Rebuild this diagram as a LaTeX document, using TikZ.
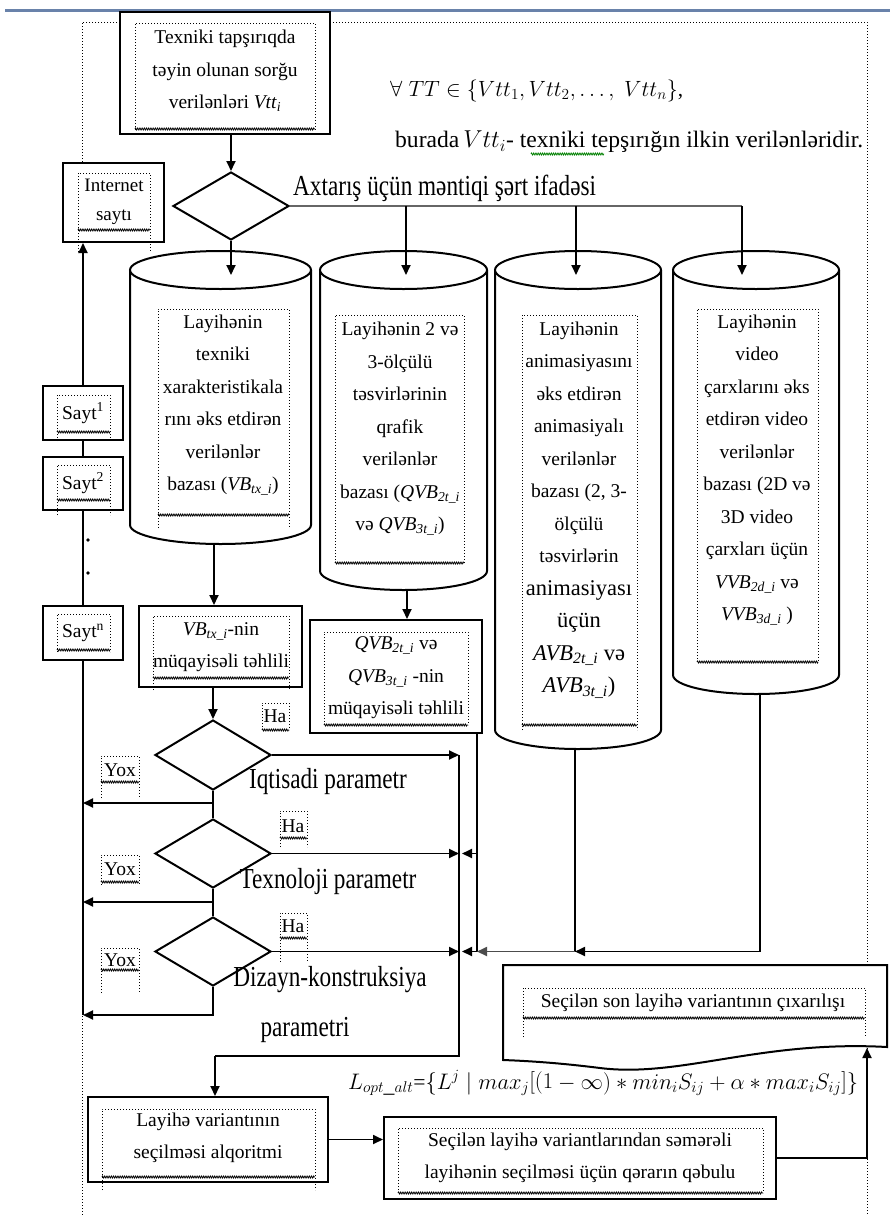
\documentclass[tikz,border=0pt]{standalone}
\usepackage{graphicx}
\usepackage{fontspec}
\setmainfont{Liberation Serif}
\newfontfamily\condfont{Liberation Serif}[FakeStretch=0.8]
\usetikzlibrary{arrows.meta,shapes.geometric,decorations.pathmorphing}
\definecolor{rulec}{RGB}{105,130,170}
\tikzset{
  obox/.style={draw,line width=2pt,fill=white,rectangle,inner sep=0pt},
  dia/.style={draw,line width=2pt,fill=white,diamond,inner sep=0pt,minimum width=116pt,minimum height=69pt},
  conn/.style={line width=1.8pt},
  arr/.style={line width=1.8pt,-{Triangle[length=10pt,width=9pt]}},
  tx/.style={inner sep=0pt,align=center,font=\fontsize{19.5}{32.5}\selectfont},
  big/.style={inner sep=0pt,font=\condfont\fontsize{29}{32}\selectfont},
  dotf/.style={dotted,line width=1pt},
  zz/.style={line width=0.8pt,decorate,decoration={zigzag,segment length=2.2pt,amplitude=1pt}},
}
\newcommand\dbcyl[5]{%
  \pgfmathsetmacro\cylcx{(#1+#2)/2}\pgfmathsetmacro\cylrx{(#2-#1)/2}%
  \fill[white] (#1,#3) -- (#1,#4) arc[start angle=180,end angle=0,x radius=\cylrx,y radius=#5] -- (#2,#3) -- cycle;
  \draw[line width=2pt] (#1,#3) -- (#1,#4) arc[start angle=180,end angle=0,x radius=\cylrx,y radius=#5] -- (#2,#3);
  \draw[line width=2pt,fill=white] (\cylcx,#3) ellipse[x radius=\cylrx,y radius=#5];
}
\newcommand\innerfr[5]{%
  \draw[dotf] (#1,#5) -- (#1,#2) -- (#3,#2) -- (#3,#5);
  \draw[zz] (#1,#4) -- (#3,#4);
}
\begin{document}
\begin{tikzpicture}[x=1pt,y=-1pt]
\useasboundingbox (0,0) rectangle (890,1216);
\fill[white] (0,0) rectangle (890,1216);
% outer dotted frame
\draw[dotf] (120,22) -- (82,22) -- (82,1216);
\draw[dotf] (330,22) -- (867,22) -- (867,1216);
% top blue rule
\draw[line width=3pt,rulec] (5,10) -- (890,10);

% boxes
\node[obox,minimum width=210pt,minimum height=122pt] (top) at (225,73) {};
\node[obox,minimum width=101pt,minimum height=79pt] (inet) at (113.5,202.5) {};
\node[obox,minimum width=80pt,minimum height=54pt] (s1) at (83,413) {};
\node[obox,minimum width=80pt,minimum height=53pt] (s2) at (83,483.5) {};
\node[obox,minimum width=80pt,minimum height=54pt] (sn) at (83,633) {};
\node[obox,minimum width=163pt,minimum height=81pt] (vbc) at (220.5,646.5) {};
\node[obox,minimum width=172pt,minimum height=113pt] (qvbc) at (396,676.5) {};
\node[obox,minimum width=240pt,minimum height=85pt] (alg) at (208,1139.5) {};
\node[obox,minimum width=392pt,minimum height=82pt] (dec) at (580,1158) {};
% document shape
\draw[line width=2pt,fill=white] (503,965) -- (887,965) -- (887,1047)
  .. controls (760,1040) and (680,1078) .. (600,1068)
  .. controls (560,1063) and (530,1061) .. (503,1060) -- cycle;
\coordinate (rb) at (867,1048);

% diamonds
\node[dia,minimum height=68pt] (d0) at (231,206) {};
\node[dia,minimum height=70pt] (d1) at (213,755) {};
\node[dia] (d2) at (213,853.5) {};
\node[dia] (d3) at (213,951.5) {};

% cylinders
\dbcyl{130}{311}{270}{525}{19}
\dbcyl{320}{487}{270}{571}{19}
\dbcyl{495}{661}{270}{730}{19}
\dbcyl{673}{839}{270}{675}{19}
\coordinate (c1t) at (231,275);
\coordinate (c2t) at (406,275);
\coordinate (c3t) at (576,275);
\coordinate (c4t) at (742,275);
\coordinate (c1b) at (214,544);
\coordinate (c2b) at (407,590);
\coordinate (c3b) at (575,749);
\coordinate (c4b) at (760,694);

% inner dotted frames
\innerfr{135}{23}{315}{129}{130}
\innerfr{78}{173}{150}{230}{252}
\innerfr{57}{395}{110}{432}{441}
\innerfr{57}{465}{110}{500}{515}
\innerfr{57}{614}{110}{650}{652}
\innerfr{158}{309}{289}{515}{528}
\innerfr{153}{616}{289}{678}{690}
\innerfr{335}{315}{464}{563}{563}
\innerfr{324}{632}{468}{725}{725}
\innerfr{522}{315}{637}{725}{730}
\innerfr{697}{309}{818}{662}{662}
\innerfr{523}{988}{865}{1018}{1037}
\innerfr{102}{1109}{315}{1177}{1190}
\innerfr{398}{1128}{763}{1193}{1193}
\innerfr{262}{703}{289}{730}{730}
\innerfr{280}{811}{307}{838}{847}
\innerfr{280}{913}{307}{938}{962}
\innerfr{101}{756}{139}{782}{798}
\innerfr{101}{855}{139}{882}{885}
\innerfr{101}{948}{139}{970}{993}

% connectors
\draw[arr] (d0.north |- top.south) -- (d0.north);
\draw[arr] (d0.south) -- (c1t);
\draw[line width=2.2pt,black!60] (d0.east) -- (d0.east -| c4t);
\draw[arr] (d0.east -| c2t) -- (c2t);
\draw[arr] (d0.east -| c3t) -- (c3t);
\draw[arr] (d0.east -| c4t) -- (c4t);
\draw[arr] (c1b) -- (c1b |- vbc.north);
\draw[arr] (c2b) -- (c2b |- qvbc.north);
\draw[arr] (d1.north |- vbc.south) -- (d1.north);
\draw[conn] (d1.south) -- (d2.north);
\draw[conn] (d2.south) -- (d3.north);
\coordinate (y1) at (213,803);
\coordinate (y2) at (213,902);
\coordinate (y3) at (213,1015);
\draw[arr] (y1) -- (y1 -| sn.south);
\draw[arr] (y2) -- (y2 -| sn.south);
\draw[arr] (d3.south) -- (y3) -- (y3 -| sn.south);
\draw[conn] (y3 -| sn.south) -- (sn.south);
\draw[conn] (sn.north) -- (s2.south);
\draw[conn] (s2.north) -- (s1.south);
\draw[arr] (s1.north) -- (s1.north |- inet.south);
\fill (88,540) circle (1.8pt);
\fill (88,573) circle (1.8pt);
\coordinate (hv) at (459,1056);
\coordinate (ain) at (215,1056);
\draw[arr] (d1.east) -- (d1.east -| hv);
\draw[arr] (d2.east) -- (d2.east -| hv);
\draw[arr] (d3.east) -- (d3.east -| hv);
\draw[conn] (d1.east -| hv) -- (hv) -- (ain);
\draw[arr] (ain) -- (ain |- alg.north);
\coordinate (qb) at (477,733);
\draw[conn] (qb) -- (qb |- d3.east);
\draw[arr] (qb |- d2.east) -- ++(-15,0);
\draw[arr] (qb |- d3.east) -- ++(-15,0);
\draw[conn] (c3b) -- (c3b |- d3.east);
\draw[arr,black!70] (c3b |- d3.east) -- (qb |- d3.east);
\draw[conn] (c4b) -- (c4b |- d3.east);
\draw[arr] (c4b |- d3.east) -- (c3b |- d3.east);
\draw[arr] (alg.east) -- (alg.east -| dec.west);
\draw[arr] (dec.east) -| (rb);

% texts
\node[tx] (t-top) at (225,71) {Texniki tapşırıqda\\təyin olunan sorğu\\verilənləri \textit{Vtt}\textsubscript{\textit{i}}};
\node[tx,font=\fontsize{19}{29}\selectfont] (t-inet) at (114,202) {Internet\\saytı};
\node[tx] (t-s1) at (83,413) {Sayt\textsuperscript{1}};
\node[tx] (t-s2) at (83,483) {Sayt\textsuperscript{2}};
\node[tx] (t-sn) at (83,633) {Sayt\textsuperscript{n}};
\node[tx] (t-c1) at (223,405) {Layihənin\\texniki\\xarakteristikala\\rını əks etdirən\\verilənlər\\bazası (\textit{VB}\textsubscript{\textit{tx\_i}})};
\node[tx] (t-c2) at (400,429) {Layihənin 2 və\\3-ölçülü\\təsvirlərinin\\qrafik\\verilənlər\\bazası (\textit{QVB}\textsubscript{\textit{2t\_i}}\\və \textit{QVB}\textsubscript{\textit{3t\_i}})};
\node[tx] (t-c3) at (579,510) {Layihənin\\animasiyasını\\əks etdirən\\animasiyalı\\verilənlər\\bazası (2, 3-\\ölçülü\\təsvirlərin\\{\fontsize{22.5}{32.5}\selectfont animasiyası}\\{\fontsize{22.5}{32.5}\selectfont üçün}\\{\fontsize{22.5}{32.5}\selectfont\textit{AVB}\textsubscript{\textit{2t\_i}} və}\\{\fontsize{22.5}{32.5}\selectfont\textit{AVB}\textsubscript{\textit{3t\_i}})}};
\node[tx] (t-c4) at (757,470) {Layihənin\\video\\çarxlarını əks\\etdirən video\\verilənlər\\bazası (2D və\\3D video\\çarxları üçün\\\textit{VVB}\textsubscript{\textit{2d\_i}} və\\\textit{VVB}\textsubscript{\textit{3d\_i}} )};
\node[tx] (t-vbc) at (221,647) {\textit{VB}\textsubscript{\textit{tx\_i}}-nin\\müqayisəli təhlili};
\node[tx] (t-qvbc) at (396,678) {\textit{QVB}\textsubscript{\textit{2t\_i}} və\\\textit{QVB}\textsubscript{\textit{3t\_i}} -nin\\müqayisəli təhlili};
\node[tx] (t-alg) at (208,1138) {Layihə variantının\\seçilməsi alqoritmi};
\node[tx] (t-dec) at (580,1158) {Seçilən layihə variantlarından səmərəli\\layihənin seçilməsi üçün qərarın qəbulu};
\node[tx] (t-doc) at (693,1003) {Seçilən son layihə variantının çıxarılışı};
\node[tx] (ha1) at (275,716) {Ha};
\node[tx] (ha2) at (293,826) {Ha};
\node[tx] (ha3) at (293,926) {Ha};
\node[tx] (yox1) at (120,770) {Yox};
\node[tx] (yox2) at (120,869) {Yox};
\node[tx] (yox3) at (120,960) {Yox};
\node[big,anchor=west] (t-ax) at (293,188) {Axtarış üçün məntiqi şərt ifadəsi};
\node[big] (t-iq) at (328,782) {Iqtisadi parametr};
\node[big] (t-tx) at (328,882) {Texnoloji parametr};
\node[big] (t-dz) at (330,980) {Dizayn-konstruksiya};
\node[big] (t-pm) at (305,1030) {parametri};
\node[inner sep=0pt,anchor=west,font=\fontsize{20}{24}\selectfont] (f1) at (390,91)
  {\resizebox{293pt}{!}{\(\forall\; TT \in \{Vtt_1, Vtt_2, \dots ,\; Vtt_n\}\),}};
\node[inner sep=0pt,anchor=west,font=\fontsize{20}{24}\selectfont] (f2) at (395,142)
  {\resizebox{468pt}{!}{burada\,\(Vtt_i\)- texniki tepşırığın ilkin verilənləridir.}};
\draw[zz,green!50!black] (531,154) -- (604,154);
\node[inner sep=0pt,anchor=west,font=\fontsize{20}{24}\selectfont] (f3) at (348,1083)
  {\resizebox{510pt}{!}{\(L_{opt\_alt}\)=\(\bigl\{L^j \bigm| max_j\bigl[(1-\infty)\ast min_iS_{ij} + \alpha\ast max_iS_{ij}\bigr]\bigr\}\)}};
\end{tikzpicture}
\end{document}
